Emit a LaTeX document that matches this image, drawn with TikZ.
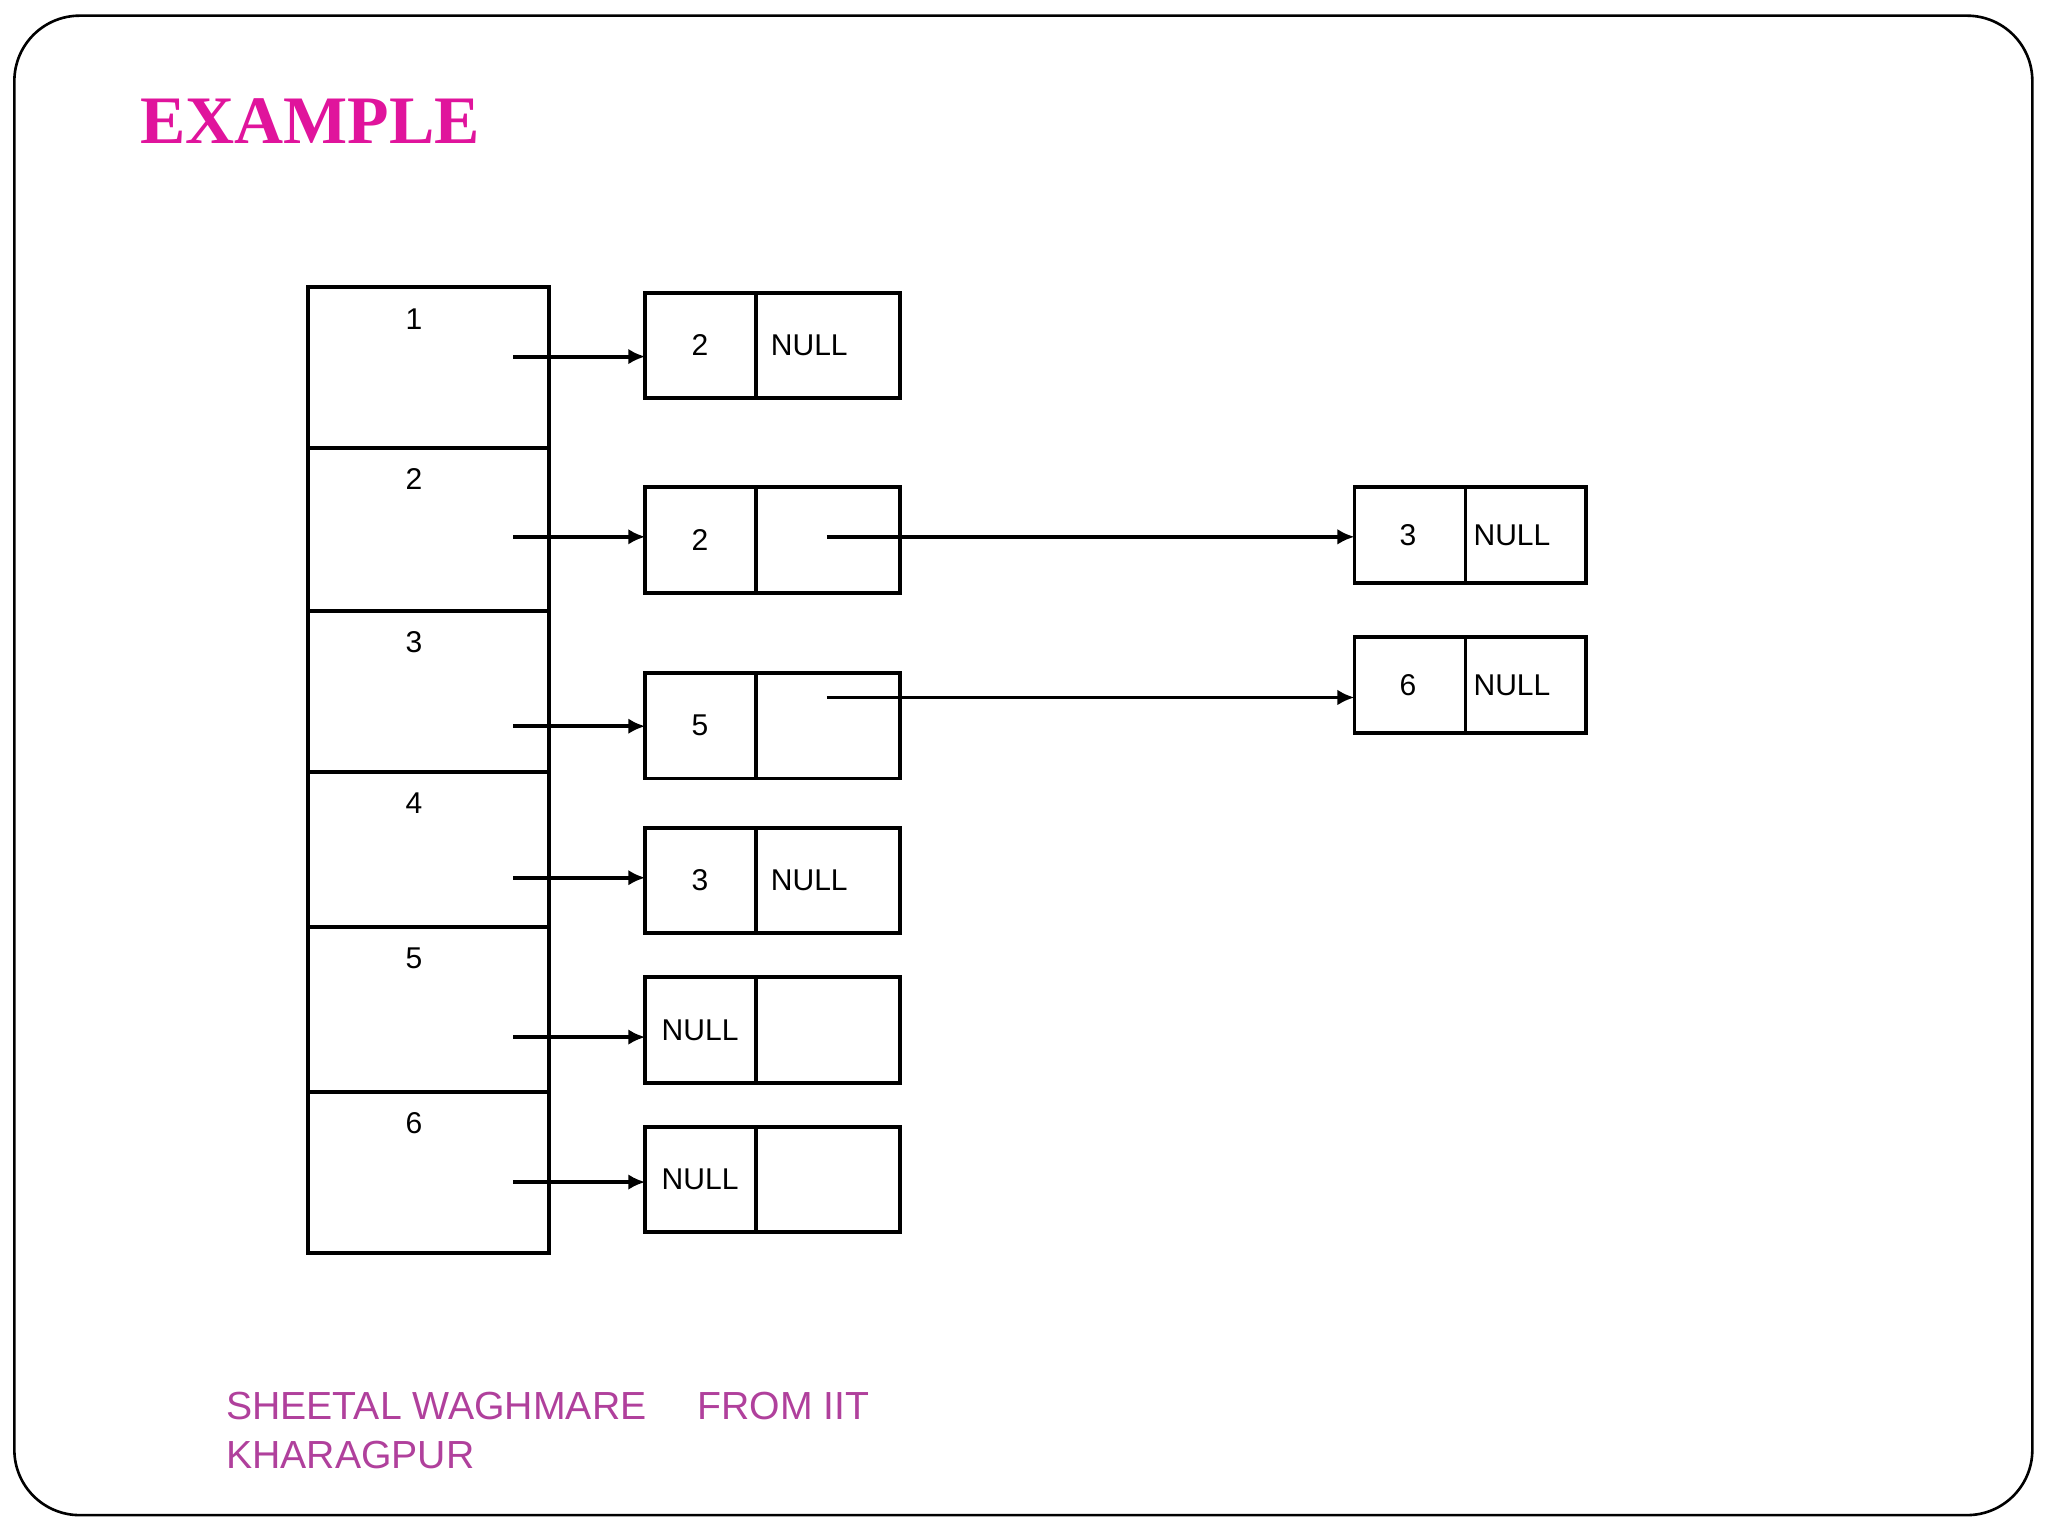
\documentclass[tikz,border=0pt]{standalone}
\usepackage{fontspec}
\setmainfont{Liberation Serif}
\setsansfont{Liberation Sans}
\usetikzlibrary{arrows.meta}
\definecolor{mag}{HTML}{E0149C}
\definecolor{foot}{HTML}{B0409C}
\begin{document}
\begin{tikzpicture}[x=1pt,y=-1pt,
  cell/.style={draw,line width=3pt},
  lbl/.style={font=\sffamily\fontsize{23}{25}\selectfont,inner sep=0pt},
  arr/.style={-{Latex[length=13pt,width=12pt]},line width=3pt}]
\useasboundingbox (0,0) rectangle (1568,1176);
\draw[line width=2pt,rounded corners=50pt] (11,12) rectangle (1556,1160);
\node[anchor=west,text=mag,font=\bfseries\fontsize{52}{56}\selectfont,inner sep=0pt] (title) at (107,93) {EXAMPLE};
% table
\foreach \a/\b/\t [count=\i] in {220/343/1,343/468/2,468/591/3,591/710/4,710/836/5,836/959/6}{
  \draw[cell] (236,\a) rectangle (420,\b);
  \node[lbl] (t\i) at (317,\a+24) {\t};
}
% list boxes
\foreach \a/\b/\l/\r/\y [count=\i] in {224/305/2/NULL/273, 373/454/2//411, 515/596/5//556, 634/714/3/NULL/672, 748/829/NULL//794, 863/943/NULL//905}{
  \draw[cell] (494,\a) rectangle (689,\b);
  \draw[cell] (579,\a) -- (579,\b);
  \node[lbl] (l\i) at (536,{(\a+\b)/2}) {\l};
  \node[lbl,anchor=west] (r\i) at (590,{(\a+\b)/2}) {\r};
  \coordinate (s\i) at (393,\y);
  \coordinate (e\i) at (494,\y);
  \draw[arr] (s\i) -- (e\i);
}
% right boxes
\foreach \a/\b/\l [count=\i] in {373/446/3, 488/561/6}{
  \draw[cell] (1037,\a) rectangle (1214,\b);
  \draw[cell] (1122,\a) -- (1122,\b);
  \node[lbl] (q\i) at (1078,{(\a+\b)/2}) {\l};
  \node[lbl,anchor=west] (n\i) at (1128,{(\a+\b)/2}) {NULL};
}
\coordinate (p2) at (633,411); \coordinate (f2) at (1037,411);
\coordinate (p3) at (633,534); \coordinate (f3) at (1037,534);
\draw[arr] (p2) -- (f2);
\draw[arr] (p3) -- (f3);
\node[anchor=north west,text=foot,font=\sffamily\fontsize{30}{37}\selectfont,inner sep=0pt,align=left] (foot) at (173,1066) {SHEETAL WAGHMARE\hspace{1.3em}FROM IIT\\KHARAGPUR};
\end{tikzpicture}
\end{document}
